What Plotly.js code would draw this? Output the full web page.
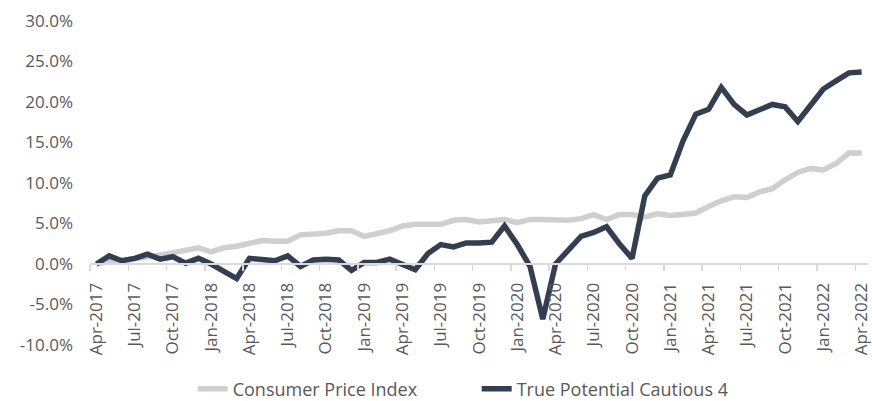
<!DOCTYPE html>
<html>
<head>
<meta charset="utf-8">
<script src="https://cdn.plot.ly/plotly-3.0.1.min.js"></script>
<style>html,body{margin:0;padding:0;background:#fff;}#chart{width:872px;height:401px;}</style>
</head>
<body>
<div id="chart"></div>
<script>
var months = ["Apr-2017","May-2017","Jun-2017","Jul-2017","Aug-2017","Sep-2017","Oct-2017","Nov-2017","Dec-2017",
"Jan-2018","Feb-2018","Mar-2018","Apr-2018","May-2018","Jun-2018","Jul-2018","Aug-2018","Sep-2018","Oct-2018","Nov-2018","Dec-2018",
"Jan-2019","Feb-2019","Mar-2019","Apr-2019","May-2019","Jun-2019","Jul-2019","Aug-2019","Sep-2019","Oct-2019","Nov-2019","Dec-2019",
"Jan-2020","Feb-2020","Mar-2020","Apr-2020","May-2020","Jun-2020","Jul-2020","Aug-2020","Sep-2020","Oct-2020","Nov-2020","Dec-2020",
"Jan-2021","Feb-2021","Mar-2021","Apr-2021","May-2021","Jun-2021","Jul-2021","Aug-2021","Sep-2021","Oct-2021","Nov-2021","Dec-2021",
"Jan-2022","Feb-2022","Mar-2022","Apr-2022"];

var cpi = [0.0,0.3,0.4,0.6,0.9,1.1,1.4,1.7,2.0,
1.5,2.0,2.2,2.6,2.9,2.8,2.8,3.6,3.7,3.8,4.1,4.1,
3.4,3.8,4.1,4.7,4.9,4.9,4.9,5.4,5.5,5.2,5.4,5.5,
5.1,5.5,5.5,5.4,5.4,5.6,6.1,5.5,6.1,6.1,5.8,6.2,
6.0,6.1,6.3,7.1,7.8,8.3,8.2,8.9,9.3,10.4,11.3,11.8,
11.6,12.4,13.7,13.7];

var cautious4 = [0.0,1.0,0.4,0.7,1.2,0.6,0.9,0.1,0.7,
0.0,-0.9,-1.8,0.7,0.5,0.4,1.0,-0.3,0.5,0.6,0.5,-0.8,
0.2,0.2,0.6,-0.1,-0.7,1.3,2.4,2.1,2.6,2.6,2.7,4.7,
2.4,-0.3,-6.8,0.0,1.7,3.4,3.9,4.6,2.5,0.7,8.4,10.6,
11.0,15.2,18.5,19.1,21.8,19.7,18.4,19.0,19.7,19.4,17.6,19.6,
21.6,22.6,23.6,23.7];

var seriesNames = ["Consumer Price Index","True Potential Cautious 4"];
var yTickVals = [-10,-5,0,5,10,15,20,25,30];

var idx = months.map(function(m,i){return i;});
var labelVals = [], labelText = [], bndVals = [];
for (var i = 0; i < months.length; i += 3) { labelVals.push(i); labelText.push(months[i]); bndVals.push(i - 0.5); }

var tickFont = {family: "Open Sans, sans-serif", size: 17, color: "#595959"};
var legendFont = {family: "Open Sans, sans-serif", size: 18, color: "#595959"};

var traces = [
  {x: idx, y: cpi, name: seriesNames[0], type: "scatter", mode: "lines",
   line: {color: "#d0cece", width: 5.5}, hoverinfo: "skip"},
  {x: idx, y: cautious4, name: seriesNames[1], type: "scatter", mode: "lines",
   line: {color: "#333f50", width: 5.5}, hoverinfo: "skip"}
];

var layout = {
  width: 872, height: 401,
  margin: {l: 90, r: 4, t: 21, b: 56, autoexpand: false},
  paper_bgcolor: "#ffffff", plot_bgcolor: "#ffffff",
  font: tickFont,
  showlegend: true,
  legend: {orientation: "h", x: 0.132, xanchor: "left", y: -0.136, yanchor: "middle",
           font: legendFont, itemwidth: 30, entrywidth: 239, entrywidthmode: "pixels", tracegroupgap: 0},
  xaxis: {
    type: "linear", range: [-0.5, 60.5], anchor: "free", position: 0.25,
    showgrid: false, zeroline: false,
    showline: true, linecolor: "#d9d9d9", linewidth: 2,
    tickmode: "array", tickvals: labelVals, ticktext: labelText, tickangle: -90,
    ticks: "", ticklabelstandoff: 11, ticklabeloverflow: "allow",
    minor: {tickmode: "array", tickvals: bndVals, ticks: "outside", ticklen: 6, tickwidth: 1.5, tickcolor: "#d9d9d9", showgrid: false},
    tickfont: tickFont
  },
  yaxis: {
    range: [-10, 30], showgrid: false, zeroline: false, showline: false,
    tickmode: "array", tickvals: yTickVals,
    ticktext: yTickVals.map(function(v){return v.toFixed(1) + "%";}),
    ticks: "", ticklabelstandoff: 16, tickfont: tickFont
  }
};

Plotly.newPlot("chart", traces, layout, {staticPlot: true, displayModeBar: false});
</script>
</body>
</html>
